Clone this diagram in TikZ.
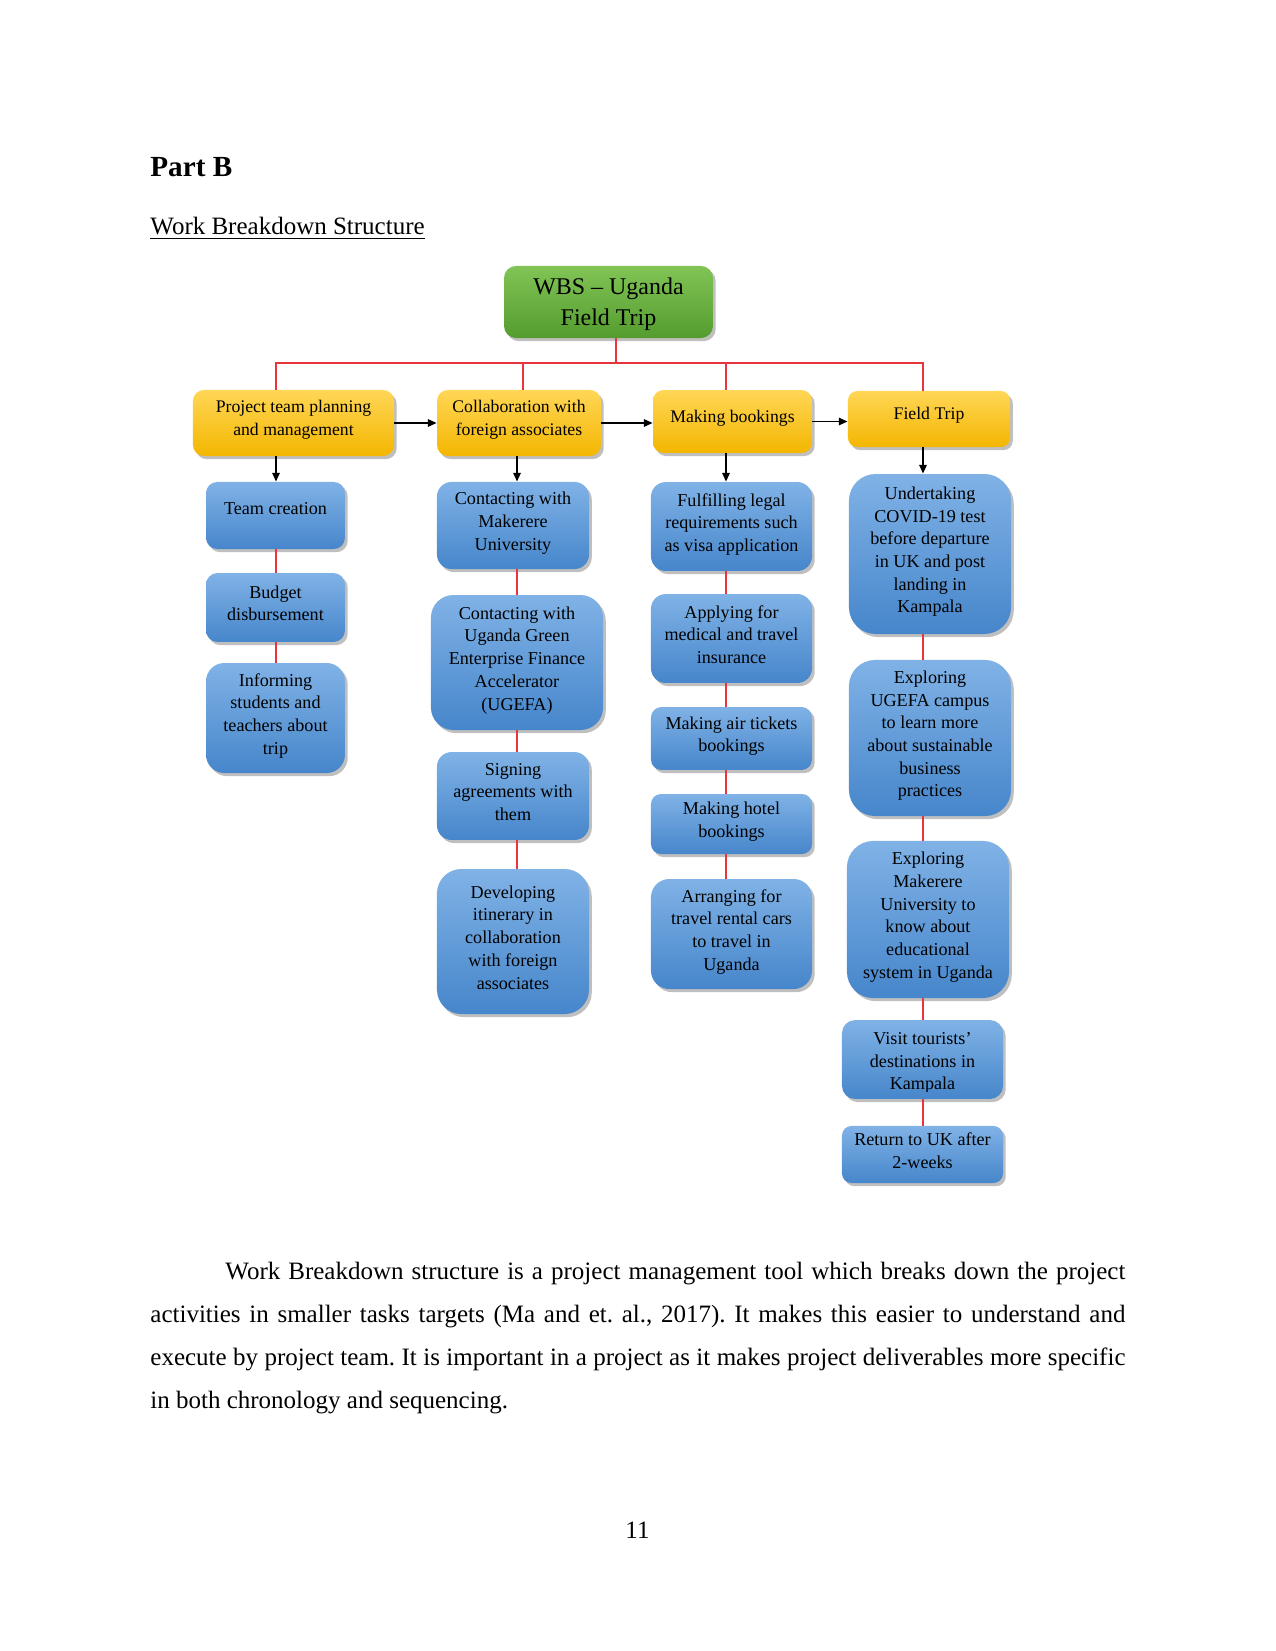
\documentclass[tikz,border=0pt]{standalone}
\usepackage{fontspec}
\setmainfont{Liberation Serif}
\usetikzlibrary{arrows.meta,shadows}
\definecolor{rline}{RGB}{232,52,60}
\definecolor{ytop}{RGB}{255,214,86}
\definecolor{ybot}{RGB}{243,182,0}
\definecolor{btop}{RGB}{128,178,230}
\definecolor{bbot}{RGB}{70,134,203}
\definecolor{gtop}{RGB}{130,196,86}
\definecolor{gbot}{RGB}{84,156,46}
\frenchspacing
\begin{document}
\begin{tikzpicture}[x=0.48pt, y=-0.48pt,
  rl/.style={draw=rline, line width=0.75pt},
  arr/.style={draw=black, line width=0.7pt, -{Triangle[length=4.2pt,width=3.6pt]}},
  shadowed/.style={drop shadow={shadow xshift=1.3pt, shadow yshift=-1.5pt, opacity=0.25, fill=black}},
  gbox/.style={rectangle, shadowed, top color=gtop, bottom color=gbot, align=center, inner sep=1pt, text depth=0pt, font=\fontsize{11.5pt}{14.7pt}\selectfont},
  ybox/.style={rectangle, shadowed, top color=ytop, bottom color=ybot, align=center, inner sep=1pt, text depth=5pt, font=\fontsize{8.5pt}{11.1pt}\selectfont},
  bbox/.style={rectangle, shadowed, top color=btop, bottom color=bbot, align=center, inner sep=1pt, text depth=4pt, font=\fontsize{8.7pt}{10.9pt}\selectfont},
  btext/.style={align=center, inner sep=0pt, font=\fontsize{8.7pt}{10.9pt}\selectfont},
  body/.style={inner sep=0pt, anchor=base west, font=\fontsize{12pt}{14pt}\selectfont},
]
\useasboundingbox (0,0) rectangle (1275,1651);
\fill[white] (0,0) rectangle (1275,1651);

% headings
\node[body, font=\bfseries\fontsize{14pt}{16pt}\selectfont] (partb) at (150,177) {Part B};
\node[body] (wbst) at (150,235) {\underline{Work Breakdown Structure}};

% root
\node[gbox, minimum width=100.3pt, minimum height=34.6pt, rounded corners=5.8pt] (root) at (608.5,302) {WBS – Uganda\\Field Trip};

% level 1
\node[ybox, minimum width=96.5pt, minimum height=31.7pt, rounded corners=5.3pt] (n1) at (293.5,423) {Project team planning\\and management};
\node[ybox, minimum width=78.7pt, minimum height=31.7pt, rounded corners=5.3pt] (n2) at (519,423) {Collaboration with\\foreign associates};
\node[ybox, minimum width=76.3pt, minimum height=30.2pt, rounded corners=5.0pt] (n3) at (732.5,421.5) {Making bookings};
\node[ybox, minimum width=77.8pt, minimum height=26.9pt, rounded corners=4.5pt] (n4) at (929,419) {Field Trip};

% column 1
\node[bbox, minimum width=66.7pt, minimum height=32.2pt, rounded corners=5.4pt, text depth=7pt] (tc) at (275.5,515.5) {Team creation};
\node[bbox, minimum width=66.7pt, minimum height=33.1pt, rounded corners=5.5pt] (bd) at (275.5,607.5) {Budget\\disbursement};
\node[bbox, minimum width=66.7pt, minimum height=52.8pt, rounded corners=8.8pt] (inf) at (275.5,718) {Informing\\students and\\teachers about\\trip};

% column 2
\node[bbox, minimum width=73pt, minimum height=41.8pt, rounded corners=7pt] (mk) at (513,525.5) {Contacting with\\Makerere\\University};
\node[bbox, minimum width=82.6pt, minimum height=64.8pt, rounded corners=10.8pt] (ug) at (517,662.5) {Contacting with\\Uganda Green\\Enterprise Finance\\Accelerator\\(UGEFA)};
\node[bbox, minimum width=73pt, minimum height=42.2pt, rounded corners=7pt] (sg) at (513,796) {Signing\\agreements with\\them};
\node[bbox, minimum width=73pt, minimum height=69.6pt, rounded corners=11.7pt] (dv) at (513,941.5) {Developing\\itinerary in\\collaboration\\with foreign\\associates};

% column 3
\node[bbox, minimum width=77.3pt, minimum height=42.7pt, rounded corners=7.1pt] (fl) at (731.5,526.5) {Fulfilling legal\\requirements such\\as visa application};
\node[bbox, minimum width=77.3pt, minimum height=42.7pt, rounded corners=7.1pt] (ap) at (731.5,638.5) {Applying for\\medical and travel\\insurance};
\node[bbox, minimum width=77.3pt, minimum height=30.2pt, rounded corners=5pt] (at) at (731.5,738.5) {Making air tickets\\bookings};
\node[bbox, minimum width=77.3pt, minimum height=28.8pt, rounded corners=4.8pt] (ht) at (731.5,824) {Making hotel\\bookings};
\node[bbox, minimum width=77.3pt, minimum height=52.8pt, rounded corners=8.8pt] (ar) at (731.5,934) {Arranging for\\travel rental cars\\to travel in\\Uganda};

% column 4
\node[bbox, minimum width=77.8pt, minimum height=76.8pt, rounded corners=12.8pt] (cv) at (930,554) {Undertaking\\COVID-19 test\\before departure\\in UK and post\\landing in\\Kampala};
\node[bbox, minimum width=77.8pt, minimum height=74.9pt, rounded corners=12.5pt] (eu) at (930,738) {Exploring\\UGEFA campus\\to learn more\\about sustainable\\business\\practices};
\node[bbox, minimum width=77.8pt, minimum height=75.4pt, rounded corners=12.6pt] (em) at (928,919.5) {Exploring\\Makerere\\University to\\know about\\educational\\system in Uganda};
\node[bbox, minimum width=77.3pt, minimum height=37.9pt, rounded corners=6.3pt] (vt) at (922.5,1059.5) {};
\begin{scope}
  \clip (vt.north west) rectangle ([yshift=3.9pt]vt.south east);
  \node[btext] (vtt) at (922.5,1063) {Visit tourists’\\destinations in\\Kampala};
\end{scope}
\node[bbox, minimum width=77.3pt, minimum height=27.4pt, rounded corners=4.6pt] (rt) at (922.5,1154.5) {Return to UK after\\2-weeks};

% helper coordinates
\coordinate (bar) at (616,363);
\coordinate (c1) at (276,0);
\coordinate (c2) at (517,0);
\coordinate (cd2) at (523,0);
\coordinate (c3) at (726,0);
\coordinate (c4) at (923,0);

% red tree lines
\draw[rl] (root.south -| bar) -- (bar);
\draw[rl] (n1.north -| c1) |- (bar) -| (n4.north -| c4);
\draw[rl] (n2.north -| cd2) -- (bar -| cd2);
\draw[rl] (n3.north -| c3) -- (bar -| c3);

% horizontal arrows
\draw[arr] (n1.east) -- (n1.east -| n2.west);
\draw[arr] (n2.east) -- (n2.east -| n3.west);
\draw[arr] (n3.east) -- (n3.east -| n4.west);

% down arrows
\draw[arr] (n1.south -| c1) -- (tc.north -| c1);
\draw[arr] (n2.south -| c2) -- (mk.north -| c2);
\draw[arr] (n3.south -| c3) -- (fl.north -| c3);
\draw[arr] (n4.south -| c4) -- (cv.north -| c4);

% red column links
\draw[rl] (tc.south -| c1) -- (bd.north -| c1);
\draw[rl] (bd.south -| c1) -- (inf.north -| c1);
\draw[rl] (mk.south -| c2) -- (ug.north -| c2);
\draw[rl] (ug.south -| c2) -- (sg.north -| c2);
\draw[rl] (sg.south -| c2) -- (dv.north -| c2);
\draw[rl] (fl.south -| c3) -- (ap.north -| c3);
\draw[rl] (ap.south -| c3) -- (at.north -| c3);
\draw[rl] (at.south -| c3) -- (ht.north -| c3);
\draw[rl] (ht.south -| c3) -- (ar.north -| c3);
\draw[rl] (cv.south -| c4) -- (eu.north -| c4);
\draw[rl] (eu.south -| c4) -- (em.north -| c4);
\draw[rl] (em.south -| c4) -- (vt.north -| c4);
\draw[rl] (vt.south -| c4) -- (rt.north -| c4);

% paragraph
\node[body] (l1) at (150,1279) {\hbox to 468pt{\hskip 36pt Work Breakdown structure is a project management tool which breaks down the project}};
\node[body] (l2) at (150,1322) {\hbox to 468pt{activities in smaller tasks targets (Ma and et. al., 2017). It makes this easier to understand and}};
\node[body] (l3) at (150,1365) {\hbox to 468pt{execute by project team. It is important in a project as it makes project deliverables more specific}};
\node[body] (l4) at (150,1408) {in both chronology and sequencing.};

\node[body, anchor=base] (pg) at (637.5,1538) {11};
\end{tikzpicture}
\end{document}
